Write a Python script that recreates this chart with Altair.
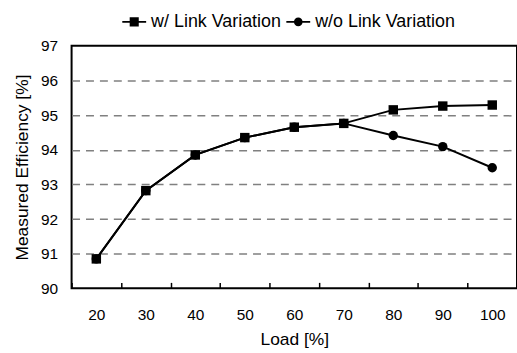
import altair as alt
import pandas as pd

load = ["20", "30", "40", "50", "60", "70", "80", "90", "100"]
w_link = [90.85, 92.82, 93.85, 94.35, 94.65, 94.76, 95.15, 95.26, 95.29]
wo_link = [90.85, 92.82, 93.85, 94.35, 94.65, 94.76, 94.41, 94.09, 93.48]
series = ["w/o Link Variation", "w/ Link Variation"]
y_ticks = [90, 91, 92, 93, 94, 95, 96, 97]

rows = []
for name, vals in [(series[0], wo_link), (series[1], w_link)]:
    for l, v in zip(load, vals):
        rows.append({"Load": l, "Eff": v, "Series": name})
df = pd.DataFrame(rows)

FONT = "Liberation Sans"
legend_order = ["w/ Link Variation", "w/o Link Variation"]

x_enc = alt.X("Load:N", sort=load, scale=alt.Scale(paddingInner=0, paddingOuter=0),
              axis=alt.Axis(title="Load [%]", labelAngle=0, domain=False, grid=False,
                            ticks=True, tickSize=6, tickColor="black", tickWidth=1.5,
                            tickBand="extent", offset=-6, labelPadding=19,
                            labelFontSize=15.5, titleFontSize=17.5, titleFontWeight="normal",
                            labelColor="black", titleColor="black", labelFont=FONT, titleFont=FONT,
                            titleY=57, titleBaseline="middle"))
y_enc = alt.Y("Eff:Q", scale=alt.Scale(domain=[90, 97], nice=False, zero=False),
              axis=alt.Axis(title="Measured Efficiency [%]", values=y_ticks, format="d",
                            domain=False, ticks=False, labelPadding=14,
                            grid=True, gridColor="#808080", gridWidth=1.5, gridDash=[8, 6],
                            gridOpacity=alt.condition("datum.value == 90 || datum.value == 97",
                                                      alt.value(0), alt.value(1)),
                            labelFontSize=15.5, titleFontSize=17.5, titleFontWeight="normal",
                            labelColor="black", titleColor="black", labelFont=FONT, titleFont=FONT,
                            titleX=-49, titleY=122, titleAngle=270, titleAlign="center",
                            titleBaseline="middle"))

base = alt.Chart(df).encode(x=x_enc, y=y_enc)

lines = base.mark_line(color="black", strokeWidth=2).encode(
    detail="Series:N"
)

points = base.mark_point(filled=True, color="black", opacity=1, size=90).encode(
    shape=alt.Shape("Series:N", scale=alt.Scale(domain=series, range=["circle", "square"]),
                    legend=None)
)

sq_path = "M-1,-0.08H1V0.08H-1Z M-0.38,-0.38H0.38V0.38H-0.38Z"
ci_path = ("M-1,-0.08H1V0.08H-1Z "
           "M0.36,0A0.36,0.36,0,1,1,-0.36,0A0.36,0.36,0,1,1,0.36,0Z")

legend_layer = base.mark_point(filled=True, color="black", opacity=1).encode(
    shape=alt.Shape("Series:N",
                    scale=alt.Scale(domain=legend_order, range=[sq_path, ci_path]),
                    legend=alt.Legend(title=None, orient="none", direction="horizontal",
                                      legendX=51, legendY=-36,
                                      symbolSize=576, symbolStrokeWidth=0,
                                      symbolFillColor="black", symbolOpacity=1,
                                      labelFontSize=18, labelFont=FONT, labelColor="black",
                                      labelOffset=5, columnPadding=5, labelLimit=300))
).transform_filter("false")

chart = alt.layer(lines, points, legend_layer).resolve_scale(shape="independent").properties(
    width=448, height=244,
    autosize=alt.AutoSizeParams(type="none"),
    padding={"left": 72, "top": 45, "right": 0, "bottom": 64},
    background="white",
).configure_view(stroke="black", strokeWidth=2)

chart.save("out.html", embed_options={"renderer": "svg", "actions": False})
